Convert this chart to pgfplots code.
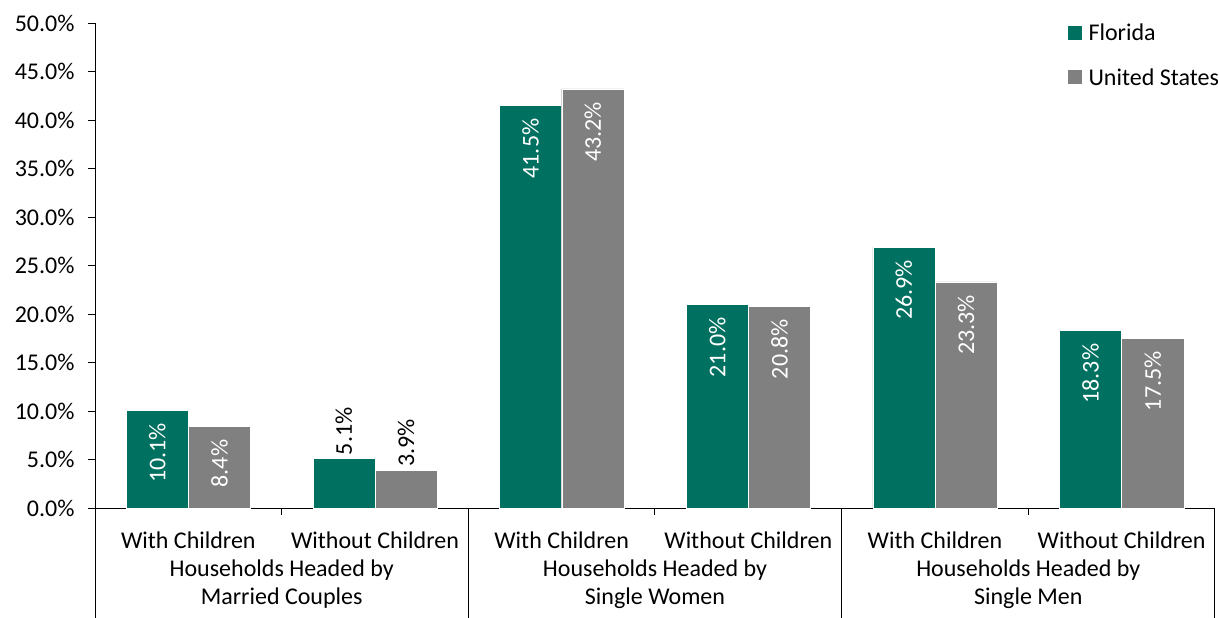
\documentclass[border=0pt]{standalone}
\usepackage{fontspec}
\setmainfont{Carlito}
\usepackage{pgfplots}
\pgfplotsset{compat=1.18}
\definecolor{fl}{RGB}{0,112,96}
\definecolor{us}{RGB}{128,128,128}
\tikzset{grp/.style={anchor=base, font=\fontsize{24bp}{29bp}\selectfont, inner sep=0pt}}
\begin{document}
\begin{tikzpicture}
\useasboundingbox (0,0) rectangle (1219bp,618bp);
\begin{axis}[
 at={(95bp,110bp)}, anchor=south west,
 scale only axis, width=1120bp, height=485bp,
 xmin=-0.5, xmax=5.5, ymin=0, ymax=50,
 axis x line*=bottom, axis y line*=left,
 axis line style={black, line width=1pt},
 ybar, bar width=0.333,
 xtick={0,...,5},
 xticklabels={With Children, Without Children, With Children, Without Children, With Children, Without Children},
 major x tick style={draw=none},
 xticklabel style={anchor=base, yshift=-33bp},
 ytick={0,5,...,50},
 ytick style={black, line width=0.8pt},
 tick align=outside, major tick length=7bp,
 yticklabel={\pgfmathprintnumber[fixed,fixed zerofill,precision=1]{\tick}\%},
 yticklabel style={xshift=-10bp},
 /pgf/number format/assume math mode=true,
 tick label style={font=\fontsize{24bp}{29bp}\selectfont},
 clip=false,
 point meta=y,
 nodes near coords={\pgfmathprintnumber[fixed,fixed zerofill,precision=1]{\pgfplotspointmeta}\%},
 every node near coord/.append style={rotate=90, font=\fontsize{24bp}{29bp}\selectfont},
 legend cell align=left,
 legend style={at={(0.8655,1.006)}, anchor=north west, draw=none, fill=none,
   font=\fontsize{24bp}{29bp}\selectfont, row sep=22bp,
   nodes={inner xsep=3bp}},
]
\addplot[fill=fl, draw=white, line width=0.4pt, bar shift=-0.1667,
  legend image code/.code={\fill[fl, draw=none] (0bp,-7bp) rectangle (14bp,7bp); \path[draw=none, fill=none] (0bp,0bp) -- (18bp,0bp);},
  every node near coord/.append style={anchor=east, text=white, inner xsep=13bp}]
  coordinates {(0,10.1) (2,41.5) (3,21.0) (4,26.9) (5,18.3)};
\addlegendentry{Florida}
\addplot[fill=fl, draw=white, line width=0.4pt, bar shift=-0.1667, forget plot,
  every node near coord/.append style={anchor=west, text=black}]
  coordinates {(1,5.1)};
\addplot[fill=us, draw=white, line width=0.4pt, bar shift=0.1667,
  legend image code/.code={\fill[us, draw=none] (0bp,-7bp) rectangle (14bp,7bp); \path[draw=none, fill=none] (0bp,0bp) -- (18bp,0bp);},
  every node near coord/.append style={anchor=east, text=white, inner xsep=13bp}]
  coordinates {(0,8.4) (2,43.2) (3,20.8) (4,23.3) (5,17.5)};
\addlegendentry{United States}
\addplot[fill=us, draw=white, line width=0.4pt, bar shift=0.1667, forget plot,
  every node near coord/.append style={anchor=west, text=black}]
  coordinates {(1,3.9)};
% category separators
\draw[black, line width=1pt] (axis cs:-0.5,0) -- (axis cs:-0.5,-11.4);
\draw[black, line width=1pt] (axis cs:1.5,0) -- (axis cs:1.5,-11.4);
\draw[black, line width=1pt] (axis cs:3.5,0) -- (axis cs:3.5,-11.4);
\draw[black, line width=1pt] (axis cs:5.5,0) -- (axis cs:5.5,-11.4);
\draw[black, line width=1pt] (axis cs:0.5,0) -- (axis cs:0.5,-0.72);
\draw[black, line width=1pt] (axis cs:2.5,0) -- (axis cs:2.5,-0.72);
\draw[black, line width=1pt] (axis cs:4.5,0) -- (axis cs:4.5,-0.72);
% group labels
\node[grp] at (axis cs:0.5,-7.11) {Households Headed by};
\node[grp] at (axis cs:0.5,-9.9) {Married Couples};
\node[grp] at (axis cs:2.5,-7.11) {Households Headed by};
\node[grp] at (axis cs:2.5,-9.9) {Single Women};
\node[grp] at (axis cs:4.5,-7.11) {Households Headed by};
\node[grp] at (axis cs:4.5,-9.9) {Single Men};
\end{axis}
\end{tikzpicture}
\end{document}
